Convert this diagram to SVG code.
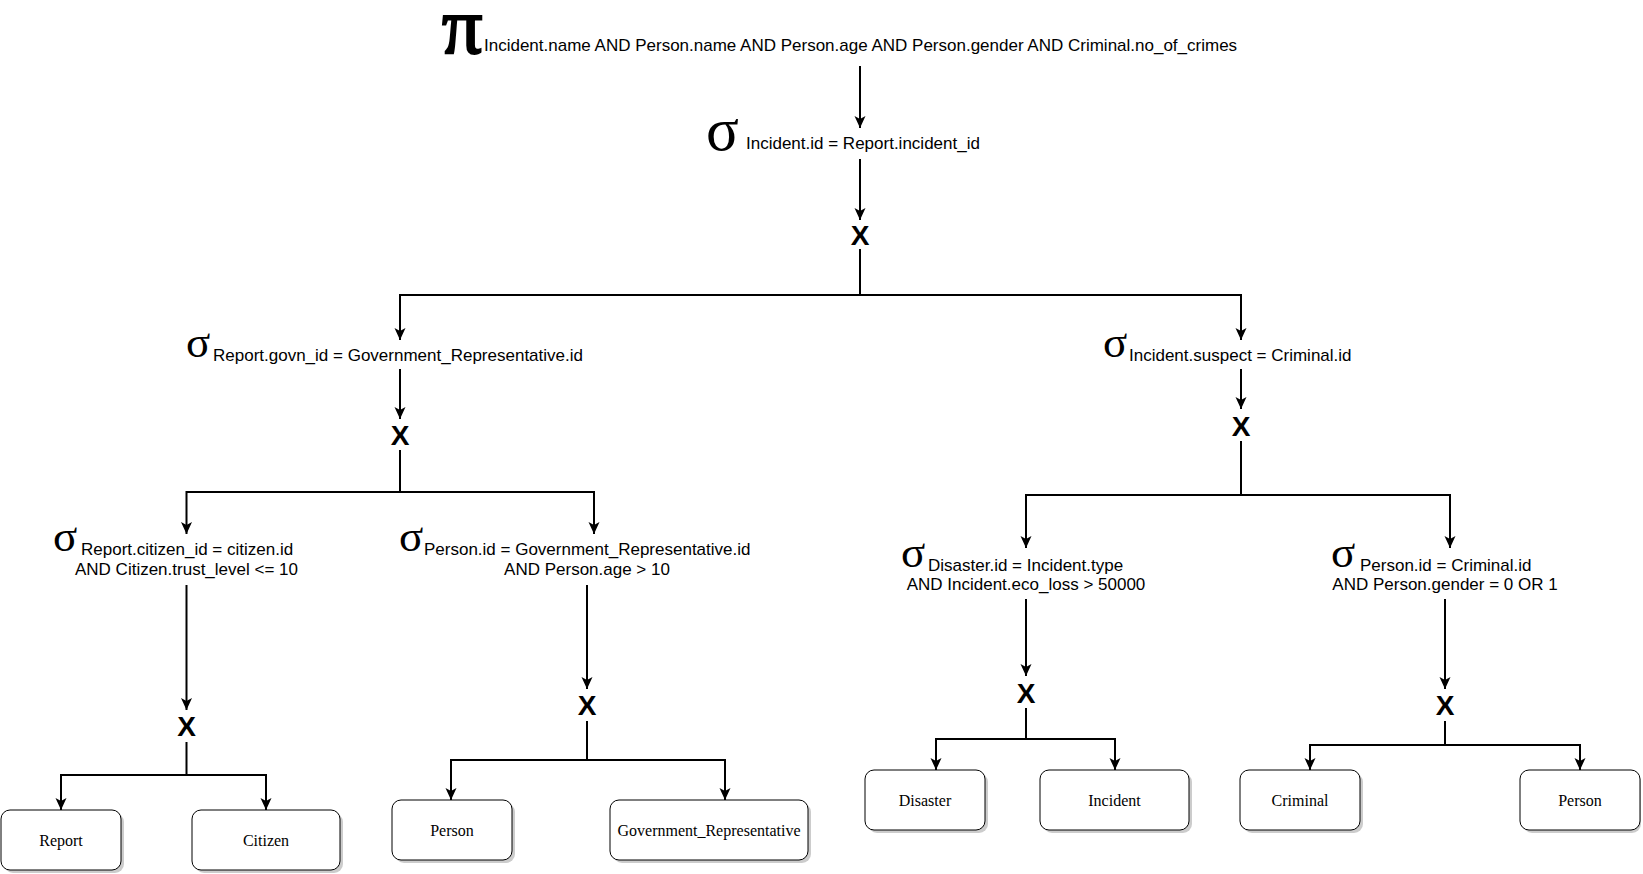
<svg xmlns="http://www.w3.org/2000/svg" width="1643" height="874" viewBox="0 0 1643 874">
<style>
.lbl{font-family:"Liberation Sans",Arial,sans-serif;font-size:17px;fill:#000}
.sg{font-family:"Liberation Serif","Times New Roman",serif;font-size:45px;fill:#000}
.x{font-family:"Liberation Sans",Arial,sans-serif;font-size:28px;font-weight:bold;fill:#000;text-anchor:middle}
.box rect.b{fill:#fff;stroke:#000;stroke-width:1}
.box rect.s{fill:#000;opacity:0.2}
.bt{font-family:"Liberation Serif","Times New Roman",serif;font-size:16px;fill:#000;text-anchor:middle}
.c path{fill:none;stroke:#000;stroke-width:2}
.mid{text-anchor:middle}
</style>
<defs>
<marker id="ah" markerWidth="14" markerHeight="14" refX="12" refY="7" orient="auto" markerUnits="userSpaceOnUse">
<path d="M0,1.5 L12,7 L0,12.5 L3,7 Z" fill="#000"/>
</marker>
</defs>
<rect width="1643" height="874" fill="#fff"/>

<g id="n-pi">
<text x="442" y="53" style="font-family:'Liberation Serif','Times New Roman',serif;font-size:80px;stroke:#000;stroke-width:2.2">π</text>
<text class="lbl" x="484" y="51">Incident.name AND Person.name AND Person.age AND Person.gender AND Criminal.no_of_crimes</text>
</g>
<g id="n-sel1">
<text class="sg" x="706" y="150" style="font-size:61px">σ</text>
<text class="lbl" x="746" y="149">Incident.id = Report.incident_id</text>
</g>
<g id="n-x1"><text class="x" x="860" y="245">X</text></g>

<g id="n-sel2">
<text class="sg" x="186" y="357">σ</text>
<text class="lbl" x="213" y="361">Report.govn_id = Government_Representative.id</text>
</g>
<g id="n-x2"><text class="x" x="400" y="445">X</text></g>

<g id="n-sel3">
<text class="sg" x="1103" y="357">σ</text>
<text class="lbl" x="1129" y="361">Incident.suspect = Criminal.id</text>
</g>
<g id="n-x3"><text class="x" x="1241" y="436">X</text></g>

<g id="n-sel4">
<text class="sg" x="53" y="551">σ</text>
<text class="lbl" x="81" y="555">Report.citizen_id = citizen.id</text>
<text class="lbl mid" x="186.5" y="575">AND Citizen.trust_level &lt;= 10</text>
</g>
<g id="n-x4"><text class="x" x="186.5" y="736">X</text></g>

<g id="n-sel5">
<text class="sg" x="399" y="551">σ</text>
<text class="lbl" x="424" y="555">Person.id = Government_Representative.id</text>
<text class="lbl mid" x="587" y="575">AND Person.age &gt; 10</text>
</g>
<g id="n-x5"><text class="x" x="587" y="715">X</text></g>

<g id="n-sel6">
<text class="sg" x="901" y="567">σ</text>
<text class="lbl" x="928" y="571">Disaster.id = Incident.type</text>
<text class="lbl mid" x="1026" y="590">AND Incident.eco_loss &gt; 50000</text>
</g>
<g id="n-x6"><text class="x" x="1026" y="703">X</text></g>

<g id="n-sel7">
<text class="sg" x="1331" y="567">σ</text>
<text class="lbl" x="1360" y="571">Person.id = Criminal.id</text>
<text class="lbl mid" x="1445" y="590">AND Person.gender = 0 OR 1</text>
</g>
<g id="n-x7"><text class="x" x="1445" y="715">X</text></g>

<g id="n-report" class="box"><rect class="s" x="4" y="813" width="120" height="60" rx="9"/><rect class="b" x="1" y="810" width="120" height="60" rx="9"/><text class="bt" x="61" y="846">Report</text></g>
<g id="n-citizen" class="box"><rect class="s" x="195" y="813" width="148" height="60" rx="9"/><rect class="b" x="192" y="810" width="148" height="60" rx="9"/><text class="bt" x="266" y="846">Citizen</text></g>
<g id="n-person1" class="box"><rect class="s" x="395" y="803" width="120" height="60" rx="9"/><rect class="b" x="392" y="800" width="120" height="60" rx="9"/><text class="bt" x="452" y="836">Person</text></g>
<g id="n-govrep" class="box"><rect class="s" x="613" y="803" width="198" height="60" rx="9"/><rect class="b" x="610" y="800" width="198" height="60" rx="9"/><text class="bt" x="709" y="836">Government_Representative</text></g>
<g id="n-disaster" class="box"><rect class="s" x="868" y="773" width="120" height="60" rx="9"/><rect class="b" x="865" y="770" width="120" height="60" rx="9"/><text class="bt" x="925" y="806">Disaster</text></g>
<g id="n-incident" class="box"><rect class="s" x="1043" y="773" width="149" height="60" rx="9"/><rect class="b" x="1040" y="770" width="149" height="60" rx="9"/><text class="bt" x="1114.5" y="806">Incident</text></g>
<g id="n-criminal" class="box"><rect class="s" x="1243" y="773" width="120" height="60" rx="9"/><rect class="b" x="1240" y="770" width="120" height="60" rx="9"/><text class="bt" x="1300" y="806">Criminal</text></g>
<g id="n-person2" class="box"><rect class="s" x="1523" y="773" width="118" height="60" rx="9"/><rect class="b" x="1520" y="770" width="120" height="60" rx="9"/><text class="bt" x="1580" y="806">Person</text></g>

<g id="connectors" class="c">
<path d="M860,66 V128" marker-end="url(#ah)"/>
<path d="M860,159 V220" marker-end="url(#ah)"/>
<path d="M860,249 V295 H400 V340" marker-end="url(#ah)"/>
<path d="M860,295 H1241 V340" marker-end="url(#ah)"/>
<path d="M400,369 V419" marker-end="url(#ah)"/>
<path d="M400,450 V492 H186.5 V534" marker-end="url(#ah)"/>
<path d="M400,492 H594 V534" marker-end="url(#ah)"/>
<path d="M1241,369 V409" marker-end="url(#ah)"/>
<path d="M1241,441 V495 H1026 V548" marker-end="url(#ah)"/>
<path d="M1241,495 H1450 V548" marker-end="url(#ah)"/>
<path d="M186.5,585 V710" marker-end="url(#ah)"/>
<path d="M186.5,742 V775 H61 V810" marker-end="url(#ah)"/>
<path d="M186.5,775 H266 V810" marker-end="url(#ah)"/>
<path d="M587,585 V689" marker-end="url(#ah)"/>
<path d="M587,721 V760 H451 V800" marker-end="url(#ah)"/>
<path d="M587,760 H725 V800" marker-end="url(#ah)"/>
<path d="M1026,599 V676" marker-end="url(#ah)"/>
<path d="M1026,708 V739 H936 V770" marker-end="url(#ah)"/>
<path d="M1026,739 H1115 V770" marker-end="url(#ah)"/>
<path d="M1445,599 V689" marker-end="url(#ah)"/>
<path d="M1445,721 V745 H1310 V770" marker-end="url(#ah)"/>
<path d="M1445,745 H1580 V770" marker-end="url(#ah)"/>
</g>
</svg>
